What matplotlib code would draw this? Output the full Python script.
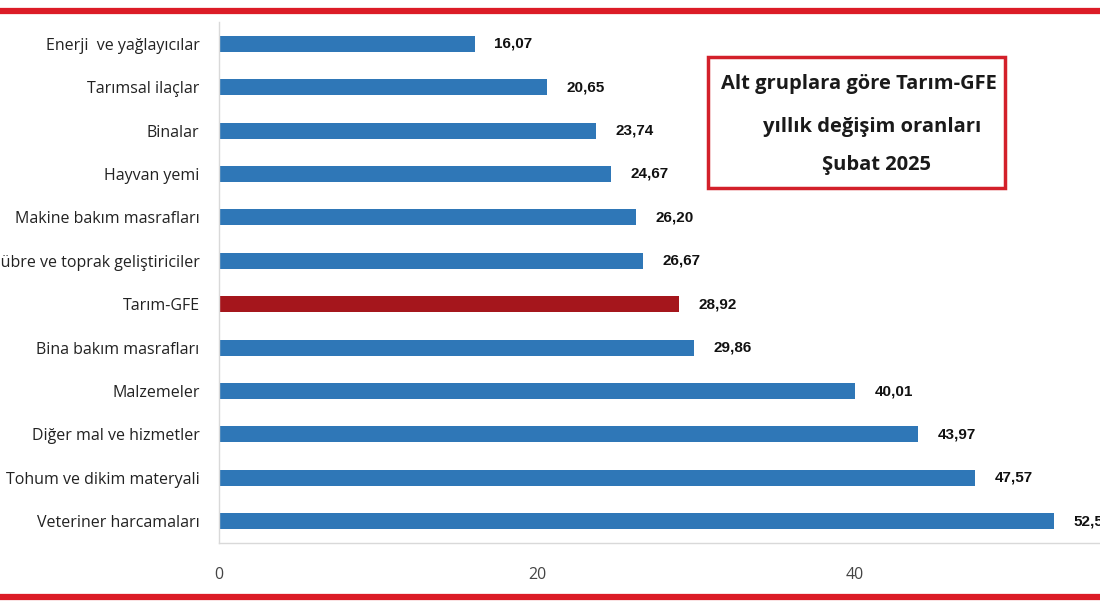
import matplotlib.pyplot as plt
from matplotlib.lines import Line2D
from matplotlib.patches import Rectangle

categories = [
    "Enerji  ve yağlayıcılar",
    "Tarımsal ilaçlar",
    "Binalar",
    "Hayvan yemi",
    "Makine bakım masrafları",
    "Gübre ve toprak geliştiriciler",
    "Tarım-GFE",
    "Bina bakım masrafları",
    "Malzemeler",
    "Diğer mal ve hizmetler",
    "Tohum ve dikim materyali",
    "Veteriner harcamaları",
]
values = [16.07, 20.65, 23.74, 24.67, 26.20, 26.67, 28.92, 29.86, 40.01, 43.97, 47.57, 52.54]
highlight = "Tarım-GFE"
xticks = [0, 20, 40]
title_lines = ["Alt gruplara göre Tarım-GFE", "yıllık değişim oranları", "Şubat 2025"]

W, H = 1100, 610
fig = plt.figure(figsize=(11, 6.1), dpi=100)
fig.patch.set_facecolor("white")

# axes: x=0 at px 219, 15.9 px per unit, runs off the right edge
left, top, bottom = 219, 22, 543
ax = fig.add_axes([left / W, 1 - bottom / H, (W - left) / W, (bottom - top) / H])
ax.set_xlim(0, (W - left) / 15.9)
ax.set_ylim(len(categories) - 0.5, -0.5)

colors = ["#a5161c" if c == highlight else "#2f77b7" for c in categories]
ypos = list(range(len(categories)))
ax.barh(ypos, values, height=0.37, color=colors)

for y, v in zip(ypos, values):
    ax.annotate(f"{v:.2f}".replace(".", ","), (v, y), xytext=(14, 0),
                textcoords="offset points", va="center", ha="left",
                fontsize=11, fontweight="bold", family="Liberation Sans",
                color="#111111", annotation_clip=False)

ax.set_yticks(ypos)
ax.set_yticklabels(categories, fontsize=11.5, family="Open Sans", color="#222222")
ax.set_xticks(xticks)
ax.set_xticklabels([str(t) for t in xticks], fontsize=11.5, family="Open Sans", color="#444444")
ax.tick_params(axis="both", length=0)
ax.tick_params(axis="y", pad=14)
ax.tick_params(axis="x", pad=17)

for s in ["top", "right"]:
    ax.spines[s].set_visible(False)
for s in ["left", "bottom"]:
    ax.spines[s].set_color("#d9d9d9")
    ax.spines[s].set_linewidth(1)

# red rules top and bottom
for yp in (11, 597):
    fig.add_artist(Line2D([0, 1], [1 - yp / H, 1 - yp / H], color="#dc1c27",
                          linewidth=4.5, transform=fig.transFigure))

# title box
bx0, by0, bx1, by1 = 708, 57, 1005, 188
fig.add_artist(Rectangle((bx0 / W, 1 - by1 / H), (bx1 - bx0) / W, (by1 - by0) / H,
                         fill=False, edgecolor="#d3202a", linewidth=2.5,
                         transform=fig.transFigure))
for xp, yp, txt in zip((859, 872, 876), (84, 127, 165), title_lines):
    fig.text(xp / W, 1 - yp / H, txt, ha="center", va="center", fontsize=14.5,
             fontweight="bold", family="Open Sans", color="#1a1a1a")

fig.savefig("out.png", dpi=100)
